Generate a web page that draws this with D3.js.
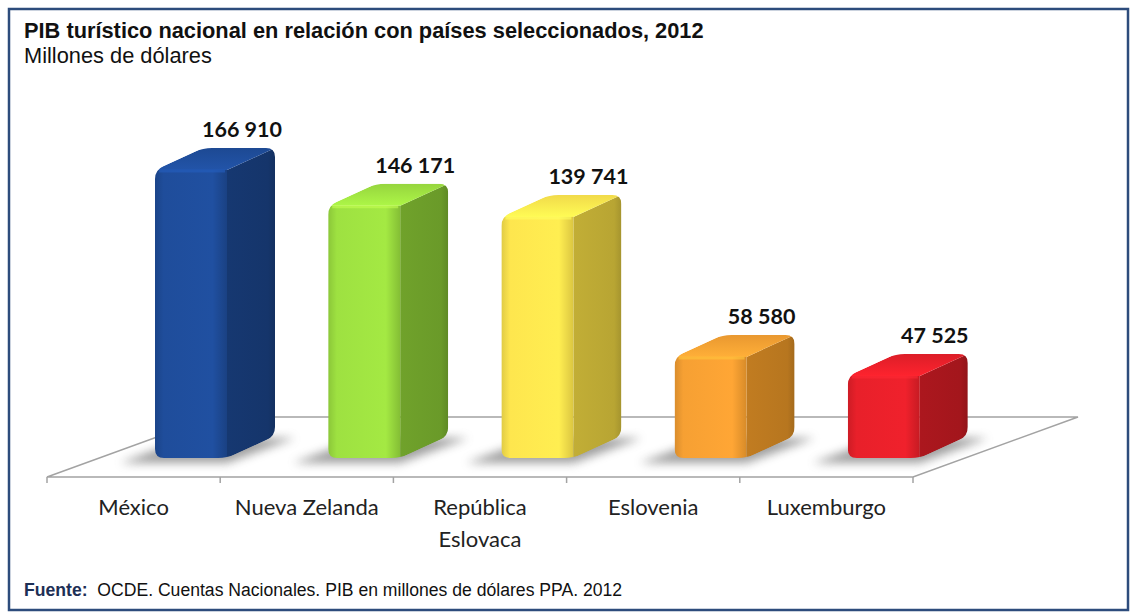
<!DOCTYPE html>
<html>
<head>
<meta charset="utf-8">
<script src="https://cdn.jsdelivr.net/npm/d3@7"></script>
<style>
  body { margin: 0; background: #fff; }
  svg { display: block; }
</style>
</head>
<body>
<svg id="chart" width="1130" height="613"></svg>
<script>
// data
const categories = ["México", "Nueva Zelanda", "República Eslovaca", "Eslovenia", "Luxemburgo"];
const labelLines = [["México"], ["Nueva Zelanda"], ["República", "Eslovaca"], ["Eslovenia"], ["Luxemburgo"]];
const values = [166910, 146171, 139741, 58580, 47525];
const frontColors = ["#1f4d9b", "#9ee141", "#fee64e", "#f6a033", "#e8202a"];
const sideColors = ["#15356b", "#6a9a29", "#b8a533", "#b7761f", "#a3161c"];

const title = "PIB turístico nacional en relación con países seleccionados, 2012";
const subtitle = "Millones de dólares";

const svg = d3.select("#chart");

// frame
svg.append("rect")
  .attr("x", 9).attr("y", 9)
  .attr("width", 1119).attr("height", 601)
  .attr("fill", "#fff")
  .attr("stroke", "#2d4c7c")
  .attr("stroke-width", 2.5);

svg.append("text")
  .attr("x", 24).attr("y", 38)
  .attr("font-family", "Liberation Sans, Arial, sans-serif")
  .attr("font-weight", "bold")
  .attr("font-size", 21.8)
  .attr("fill", "#111")
  .text(title);

svg.append("text")
  .attr("x", 24).attr("y", 63)
  .attr("font-family", "Liberation Sans, Arial, sans-serif")
  .attr("font-size", 21.8)
  .attr("fill", "#111")
  .text(subtitle);

const foot = svg.append("text")
  .attr("x", 24).attr("y", 596)
  .attr("font-family", "Liberation Sans, Arial, sans-serif")
  .attr("font-size", 17.6)
  .attr("fill", "#111");
foot.append("tspan").attr("font-weight", "bold").attr("fill", "#1d2f55").text("Fuente:");
foot.append("tspan").text("\u00a0 OCDE. Cuentas Nacionales. PIB en millones de dólares PPA. 2012");

// scales
const x = d3.scaleBand().domain(categories).range([47, 913]).paddingInner(0).paddingOuter(0);
const y = d3.scaleLinear().domain([0, d3.max(values)]).range([458, 170]);

// floor depth offsets
const fdx = 165, fdy = 60;
const floorY = 477;
const x0 = x.range()[0], x1 = x.range()[1];

const defs = svg.append("defs");
const blur = defs.append("filter").attr("id", "blur").attr("x", "-50%").attr("y", "-50%").attr("width", "200%").attr("height", "200%");
blur.append("feGaussianBlur").attr("stdDeviation", 5);

// floor
svg.append("path")
  .attr("d", `M${x0},${floorY}L${x1},${floorY}L${x1 + fdx},${floorY - fdy}L${x0 + fdx},${floorY - fdy}Z`)
  .attr("fill", "#fff")
  .attr("stroke", "#a3a3a3")
  .attr("stroke-width", 1.5);

// ticks at band edges
const edges = d3.range(categories.length + 1).map(i => x0 + i * x.step());
svg.selectAll(".tick")
  .data(edges)
  .join("line")
  .attr("x1", d => d).attr("x2", d => d)
  .attr("y1", floorY).attr("y2", floorY + 6)
  .attr("stroke", "#a3a3a3")
  .attr("stroke-width", 1.5);

// bar geometry
const off = 108, bw = 72, dx = 48, dy = 22, rr = 9;

function roundedPath(pts, r) {
  const n = pts.length;
  let d = "";
  for (let i = 0; i < n; i++) {
    const p = pts[i], prev = pts[(i - 1 + n) % n], next = pts[(i + 1) % n];
    const v1 = [prev[0] - p[0], prev[1] - p[1]], v2 = [next[0] - p[0], next[1] - p[1]];
    const l1 = Math.hypot(...v1), l2 = Math.hypot(...v2);
    const a = [p[0] + v1[0] / l1 * r, p[1] + v1[1] / l1 * r];
    const b = [p[0] + v2[0] / l2 * r, p[1] + v2[1] / l2 * r];
    d += (i === 0 ? "M" : "L") + a[0] + "," + a[1] + "Q" + p[0] + "," + p[1] + " " + b[0] + "," + b[1];
  }
  return d + "Z";
}

const bars = values.map((v, i) => {
  const bx = x(categories[i]) + off;
  return { v, i, bx, yt: y(v), yb: y(0) };
});

// gradients
bars.forEach(b => {
  const c = d3.color(frontColors[b.i]);
  const s = d3.color(sideColors[b.i]);
  const gf = defs.append("linearGradient").attr("id", "front" + b.i).attr("x1", 0).attr("x2", 1).attr("y1", 0).attr("y2", 0);
  gf.append("stop").attr("offset", "0%").attr("stop-color", c.darker(0.35));
  gf.append("stop").attr("offset", "12%").attr("stop-color", c);
  gf.append("stop").attr("offset", "80%").attr("stop-color", c.brighter(0.1));
  gf.append("stop").attr("offset", "100%").attr("stop-color", d3.interpolateRgb(c, s)(0.5));
  const gs = defs.append("linearGradient").attr("id", "side" + b.i).attr("x1", 0).attr("x2", 1).attr("y1", 0).attr("y2", 0);
  gs.append("stop").attr("offset", "0%").attr("stop-color", s.brighter(0.15));
  gs.append("stop").attr("offset", "85%").attr("stop-color", s);
  gs.append("stop").attr("offset", "100%").attr("stop-color", s.darker(0.3));
  const gt = defs.append("linearGradient").attr("id", "top" + b.i).attr("x1", 0).attr("x2", 0).attr("y1", 1).attr("y2", 0);
  gt.append("stop").attr("offset", "0%").attr("stop-color", c.brighter(0.25));
  gt.append("stop").attr("offset", "100%").attr("stop-color", c.darker(0.15));

  const pts = [[b.bx, b.yb], [b.bx, b.yt], [b.bx + dx, b.yt - dy], [b.bx + bw + dx, b.yt - dy], [b.bx + bw + dx, b.yb - dy], [b.bx + bw, b.yb]];
  defs.append("clipPath").attr("id", "clip" + b.i)
    .append("path").attr("d", roundedPath(pts, rr));
});

// shadows
svg.append("g").selectAll("path")
  .data(bars)
  .join("path")
  .attr("d", b => `M${b.bx - 35},${b.yb + 5}L${b.bx + bw},${b.yb + 5}L${b.bx + bw + dx + 20},${b.yb - dy + 2}L${b.bx + dx - 15},${b.yb - dy + 2}Z`)
  .attr("fill", "#777")
  .attr("opacity", 0.7)
  .attr("filter", "url(#blur)");

const bar = svg.append("g").selectAll("g")
  .data(bars)
  .join("g")
  .attr("clip-path", b => `url(#clip${b.i})`);

bar.append("path")
  .attr("d", b => `M${b.bx + bw},${b.yt}L${b.bx + bw + dx},${b.yt - dy}L${b.bx + bw + dx},${b.yb - dy}L${b.bx + bw},${b.yb}Z`)
  .attr("fill", b => `url(#side${b.i})`);

bar.append("path")
  .attr("d", b => `M${b.bx},${b.yt}L${b.bx + dx},${b.yt - dy}L${b.bx + bw + dx},${b.yt - dy}L${b.bx + bw},${b.yt}Z`)
  .attr("fill", b => `url(#top${b.i})`);

bar.append("rect")
  .attr("x", b => b.bx).attr("y", b => b.yt)
  .attr("width", bw).attr("height", b => b.yb - b.yt)
  .attr("fill", b => `url(#front${b.i})`);

// soft highlight along the top front edge
bar.append("line")
  .attr("x1", b => b.bx + 4).attr("x2", b => b.bx + bw - 2)
  .attr("y1", b => b.yt + 1).attr("y2", b => b.yt + 1)
  .attr("stroke", b => d3.color(frontColors[b.i]).brighter(0.6))
  .attr("stroke-width", 3)
  .attr("opacity", 0.6);

// value labels
const fmt = d3.formatLocale({ decimal: ".", thousands: " ", grouping: [3], currency: ["", ""] }).format(",d");
svg.append("g").selectAll("text")
  .data(bars)
  .join("text")
  .attr("x", b => b.bx + 87)
  .attr("y", b => b.yt - dy - 11)
  .attr("text-anchor", "middle")
  .attr("font-family", "Lato, sans-serif")
  .attr("font-weight", "bold")
  .attr("font-size", 21.5)
  .attr("fill", "#111")
  .text(b => fmt(b.v));

// category labels
const cat = svg.append("g").selectAll("text")
  .data(categories)
  .join("text")
  .attr("x", d => x(d) + x.bandwidth() / 2)
  .attr("y", 515)
  .attr("text-anchor", "middle")
  .attr("font-family", "Lato, sans-serif")
  .attr("font-size", 22)
  .attr("fill", "#222");
cat.selectAll("tspan")
  .data((d, i) => labelLines[i])
  .join("tspan")
  .attr("x", function () { return this.parentNode.getAttribute("x"); })
  .attr("dy", (d, j) => j === 0 ? 0 : 32)
  .text(d => d);
</script>
</body>
</html>
